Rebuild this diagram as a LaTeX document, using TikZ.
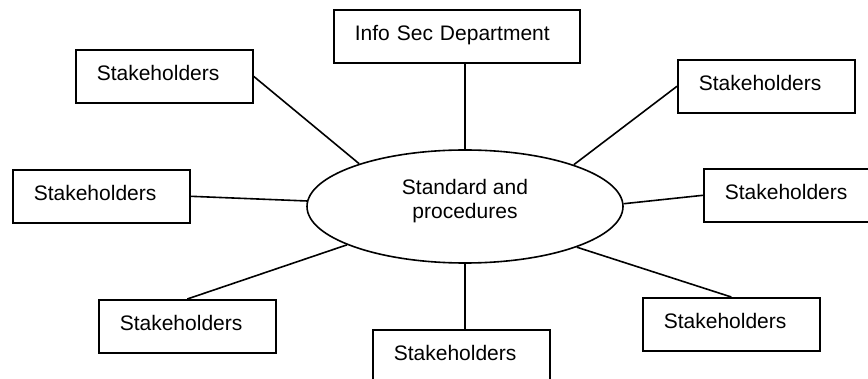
\documentclass[tikz,border=0pt]{standalone}
\usepackage{fontspec}
\setmainfont{Liberation Sans}
\usetikzlibrary{shapes.geometric}
\begin{document}
\begin{tikzpicture}[x=1pt,y=-1pt,
  line width=1.6pt,
  every node/.style={font=\fontsize{21}{24}\selectfont},
  holder/.style={draw,rectangle,anchor=north west,align=left,
    inner xsep=21pt,inner ysep=0pt,text width=#1,
    minimum height=53pt,text height=15pt,text depth=6pt},
  holder/.default=135pt,
  hub/.style={draw,ellipse,inner sep=0pt,minimum width=316pt,minimum height=113pt},
  link/.style={draw,line width=1.6pt}]
\useasboundingbox (0,0) rectangle (868,379);
\clip (0,0) rectangle (868,379);
\fill[white] (0,0) rectangle (868,379);

% central topic
\node[hub,label={[align=center,yshift=5pt,font=\fontsize{21}{24}\selectfont]center:Standard and\\procedures}] (std) at (465,206.5) {};

% surrounding boxes
\node[holder=204pt] (info) at (333,9) {Info Sec Department};
\node[holder] (tl) at (75,49)  {Stakeholders};
\node[holder] (tr) at (677,59) {Stakeholders};
\node[holder] (l)  at (12,169) {Stakeholders};
\node[holder] (r)  at (703,168) {Stakeholders};
\node[holder] (bl) at (98,299) {Stakeholders};
\node[holder] (b)  at (372,329) {Stakeholders};
\node[holder] (br) at (642,297) {Stakeholders};

% connectors
\draw[link] (std.north) -- (std.north |- info.south);
\draw[link] (std.south) -- (std.south |- b.north);
\draw[link] (std.158) -- (tl.east);
\draw[link] (std.21) -- (tr.west);
\draw[link] (std.1.3) -- (r.west);
\draw[link] (std.178.4) -- (l.east);
\draw[link] (std.198) -- (bl.north);
\draw[link] (std.340) -- (br.north);
\end{tikzpicture}
\end{document}
